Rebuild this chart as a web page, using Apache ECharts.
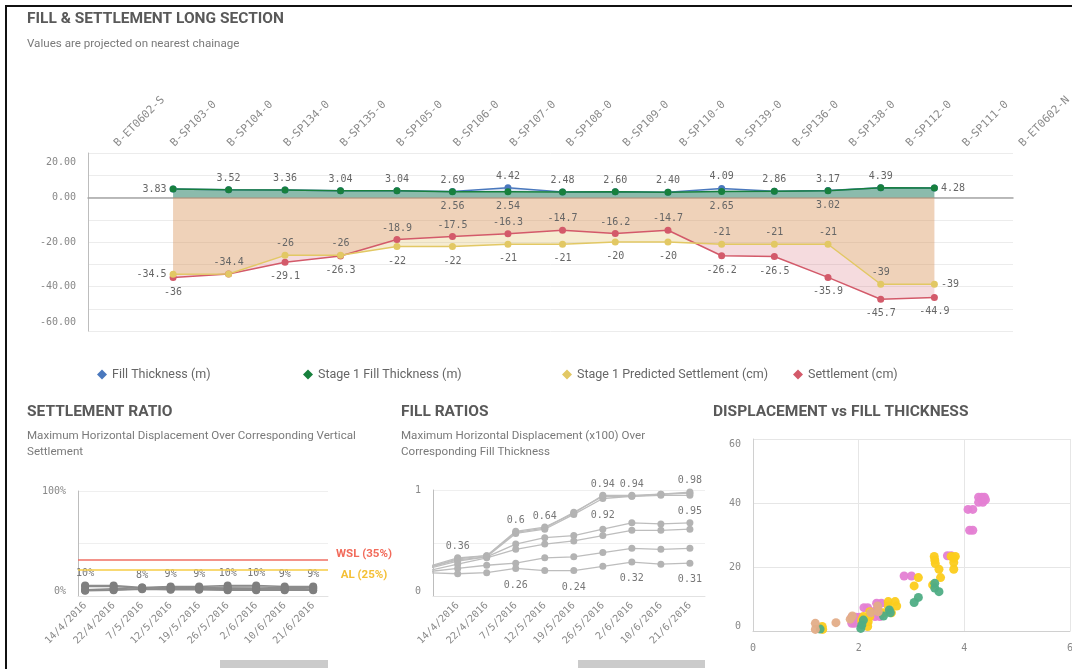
<!DOCTYPE html>
<html>
<head>
<meta charset="utf-8">
<script src="https://cdn.jsdelivr.net/npm/echarts@6/dist/echarts.min.js"></script>
<style>
  html, body { margin: 0; padding: 0; background: #fff; }
  #chart { width: 1072px; height: 669px; }
  #frame { position: absolute; left: 5px; top: 5px; right: 0; bottom: 0; border-left: 2px solid #111; border-top: 2px solid #111; pointer-events: none; }
</style>
</head>
<body>
<div id="chart"></div>
<div id="frame"></div>
<script>
// long section stations (label axis) and data points
const stationLabels = ['B-ET0602-S', 'B-SP103-0', 'B-SP104-0', 'B-SP134-0', 'B-SP135-0', 'B-SP105-0', 'B-SP106-0', 'B-SP107-0',
  'B-SP108-0', 'B-SP109-0', 'B-SP110-0', 'B-SP139-0', 'B-SP136-0', 'B-SP138-0', 'B-SP112-0', 'B-SP111-0', 'B-ET0602-N'];
const chainage = [92, 152, 213, 273, 334, 394, 454, 513, 570, 627, 685, 742, 800, 857, 915];
const fillThickness = [3.83, 3.52, 3.36, 3.04, 3.04, 2.69, 4.42, 2.48, 2.60, 2.40, 4.09, 2.86, 3.17, 4.39, 4.28];
const stage1Fill = [3.83, 3.52, 3.36, 3.04, 3.04, 2.56, 2.54, 2.48, 2.60, 2.40, 2.65, 2.86, 3.02, 4.39, 4.28];
const predictedSettlement = [-34.5, -34.4, -26, -26, -22, -22, -21, -21, -20, -20, -21, -21, -21, -39, -39];
const settlement = [-36, -34.4, -29.1, -26.3, -18.9, -17.5, -16.3, -14.7, -16.2, -14.7, -26.2, -26.5, -35.9, -45.7, -44.9];

// settlement ratio (%)
const surveyDates = ['14/4/2016', '22/4/2016', '7/5/2016', '12/5/2016', '19/5/2016', '26/5/2016', '2/6/2016', '10/6/2016', '21/6/2016'];
const ratioA = [10, 10, 8, 9, 9, 10, 10, 9, 9];
const ratioB = [9, 9, 7.5, 8.5, 8, 8.5, 8.5, 8, 8];
const ratioC = [6, 7, 8, 7, 7.5, 7.5, 7, 7, 7.5];
const ratioD = [5.5, 6, 7, 6.5, 6.5, 6, 6, 6, 6];
const ratioE = [5, 5.5, 6.5, 6, 6, 5.5, 5.5, 5.5, 5.5];
const ratioLabelIdx = [0, 2, 3, 4, 5, 6, 7, 8];
const warningLimit = 35;
const alertLimit = 25;

// fill ratios (index 0 = survey before 14/4, scrolled out of view)
const fillL1 = [0.28, 0.36, 0.38, 0.60, 0.64, 0.79, 0.94, 0.94, 0.96, 0.98];
const fillL2 = [0.27, 0.34, 0.37, 0.59, 0.63, 0.77, 0.92, 0.94, 0.95, 0.95];
const fillL3 = [0.27, 0.35, 0.38, 0.61, 0.65, 0.78, 0.95, 0.95, 0.96, 0.97];
const fillL4 = [0.26, 0.33, 0.37, 0.49, 0.55, 0.57, 0.63, 0.69, 0.68, 0.69];
const fillL5 = [0.24, 0.30, 0.36, 0.44, 0.49, 0.52, 0.57, 0.62, 0.62, 0.63];
const fillL6 = [0.23, 0.26, 0.29, 0.31, 0.36, 0.37, 0.41, 0.45, 0.44, 0.45];
const fillL7 = [0.22, 0.21, 0.22, 0.26, 0.24, 0.24, 0.28, 0.32, 0.30, 0.31];
const fillL1LabelIdx = [1, 3, 4, 6, 7, 9];
const fillL2LabelIdx = [6, 9];
const fillL7LabelIdx = [3, 5, 7, 9];

// displacement vs fill thickness [fill thickness, displacement]
const pinkPts = [[4.07, 38], [4.16, 38], [4.1, 31.5], [4.16, 31.5], [4.27, 41.8], [4.33, 41.8], [4.38, 41.8], [4.27, 40.2],
  [4.35, 40.2], [4.4, 41], [3.68, 23.5], [3.75, 23.5], [2.86, 17.2], [3.0, 17.2], [2.1, 7.3], [2.17, 7.3], [2.34, 8.7],
  [2.43, 8.7], [2.31, 6.3], [2.38, 6.3], [2.31, 4.5], [2.4, 4.5], [1.87, 4.3], [1.95, 4.3], [2.02, 4.3], [1.87, 2.4],
  [1.92, 2.4], [2.43, 5.5]];
const yellowPts = [[3.43, 23.3], [3.44, 22.2], [3.45, 21.1], [3.52, 19.3], [3.55, 16.7], [3.4, 14.4], [3.75, 23.3], [3.8, 22.7],
  [3.83, 23.3], [3.8, 21.4], [3.8, 19.3], [3.13, 16.7], [3.05, 14.1], [2.56, 9.2], [2.69, 9.2], [2.72, 7.8], [2.56, 7.8],
  [2.62, 5.7], [2.21, 6], [2.21, 4.5], [2.18, 2.9], [2.17, 1.4], [2.09, 4.5], [2.06, 2.9], [1.31, 1.4], [1.32, 0.5],
  [2.47, 5.7], [2.06, 3.5]];
const greenPts = [[3.44, 14.9], [3.44, 13.4], [3.52, 12.3], [3.13, 10.5], [3.05, 8.9], [2.58, 6.6], [2.6, 5.7], [2.47, 4.7],
  [2.09, 3.4], [2.06, 1.9], [2.04, 0.8], [1.27, 0.6]];
const tanPts = [[1.18, 2.4], [1.18, 0.5], [1.57, 2.6], [1.88, 4.7], [1.84, 3.7], [2.23, 5.7], [2.36, 7.8], [2.37, 6]];

const mono = 'DejaVu Sans Mono';
const sans = 'Roboto';
const n = chainage.length;

function edgePos(i, upper) {
  if (!upper) return 'bottom';
  if (i === 0) return 'left';
  if (i === n - 1) return 'right';
  return 'top';
}

const blueData = fillThickness.map((v, i) => ({
  value: [chainage[i], v],
  label: { position: edgePos(i, true), distance: 3 },
}));
const greenData = stage1Fill.map((v, i) => ({
  value: [chainage[i], v],
  label: { show: v !== fillThickness[i], position: 'bottom', distance: 6 },
}));
const yellowData = predictedSettlement.map((v, i) => {
  const upper = v >= settlement[i];
  return { value: [chainage[i], v], label: { show: v !== settlement[i], position: edgePos(i, upper), distance: upper ? 3 : 6 } };
});
const redData = settlement.map((v, i) => {
  const upper = v >= predictedSettlement[i];
  return { value: [chainage[i], v], label: { position: edgePos(i, upper), distance: upper ? 3 : 6 } };
});

const dataLabel = { show: true, color: '#666', fontFamily: mono, fontSize: 10 };

function topLine(name, data, color, area, fmt) {
  return {
    name, type: 'line', xAxisIndex: 0, yAxisIndex: 0, data,
    symbol: 'circle', symbolSize: 7,
    itemStyle: { color },
    lineStyle: { color, width: 1.5 },
    areaStyle: { color: area },
    label: Object.assign({}, dataLabel, { formatter: fmt }),
  };
}

const ratioSeries = [ratioA, ratioB, ratioC, ratioD, ratioE].map((vals, k) => ({
  name: 'Ratio ' + (k + 1), type: 'line', xAxisIndex: 2, yAxisIndex: 2,
  data: vals.map((v, i) => ({
    value: [i + 1, v],
    label: { show: k === 0 && ratioLabelIdx.includes(i) },
  })),
  symbol: 'circle', symbolSize: 8,
  itemStyle: { color: '#7f7f7f' },
  lineStyle: { color: '#8c8c8c', width: 1.5 },
  label: Object.assign({}, dataLabel, { color: '#777', position: 'top', distance: 3, formatter: p => p.value[1] + '%' }),
  z: 3,
}));
ratioSeries[0].markLine = {
  symbol: 'none', silent: true, animation: false,
  label: { position: 'end', formatter: '{b}', fontFamily: sans, fontWeight: 'bold', fontSize: 11.5, align: 'center', distance: 36 },
  data: [
    { yAxis: warningLimit, name: 'WSL (35%)', lineStyle: { color: '#ef6f63', width: 1.5, type: 'solid' }, label: { color: '#f26b5b', verticalAlign: 'bottom', lineHeight: 10 } },
    { yAxis: alertLimit, name: 'AL (25%)', lineStyle: { color: '#f6cd45', width: 1.5, type: 'solid' }, label: { color: '#f4bf35', verticalAlign: 'top', lineHeight: 10 } },
  ],
};

const fillSets = [fillL1, fillL2, fillL3, fillL4, fillL5, fillL6, fillL7];
const fillLabelIdx = { 0: fillL1LabelIdx, 1: fillL2LabelIdx, 6: fillL7LabelIdx };
const fillSeries = fillSets.map((vals, k) => ({
  name: 'Fill ratio ' + (k + 1), type: 'line', xAxisIndex: 3, yAxisIndex: 3,
  data: vals.map((v, i) => ({
    value: [i, v],
    label: { show: (fillLabelIdx[k] || []).includes(i) },
  })),
  symbol: 'circle', symbolSize: 7,
  itemStyle: { color: '#b3b3b3' },
  lineStyle: { color: '#bdbdbd', width: 1.3 },
  label: Object.assign({}, dataLabel, { color: '#777', position: k === 0 ? 'top' : 'bottom', distance: k === 0 ? 3 : 8, formatter: p => String(p.value[1]) }),
}));

const scatterSeries = [
  ['Group A', pinkPts, '#e47fd3'],
  ['Group B', yellowPts, '#fccc1c'],
  ['Group C', greenPts, '#4fad85'],
  ['Group D', tanPts, '#e3ad88'],
].map(([name, data, color]) => ({
  name, type: 'scatter', xAxisIndex: 4, yAxisIndex: 4, data,
  symbolSize: 9, itemStyle: { color, opacity: 0.95 },
}));

const titleStyle = { fontFamily: sans, fontWeight: 'bold', fontSize: 15.5, color: '#595959' };
const subStyle = { fontFamily: sans, fontWeight: 'normal', fontSize: 11.6, color: '#7a7a7a', lineHeight: 16 };
const axisLabelMono = { fontFamily: mono, fontSize: 10, color: '#888' };
const legendBase = { icon: 'diamond', itemWidth: 10, itemHeight: 10, itemGap: 6, top: 363, textStyle: { fontFamily: sans, fontSize: 12.5, color: '#666' } };

const chart = echarts.init(document.getElementById('chart'));
chart.setOption({
  animation: false,
  backgroundColor: '#fff',
  title: [
    { text: 'FILL & SETTLEMENT LONG SECTION', left: 27, top: 11, padding: 0, textStyle: titleStyle },
    { text: 'Values are projected on nearest chainage', left: 27, top: 36, padding: 0, textStyle: subStyle },
    { text: 'SETTLEMENT RATIO', left: 27, top: 404, padding: 0, textStyle: titleStyle },
    { text: 'Maximum Horizontal Displacement Over Corresponding Vertical\nSettlement', left: 27, top: 428, padding: 0, textStyle: subStyle },
    { text: 'FILL RATIOS', left: 401, top: 404, padding: 0, textStyle: titleStyle },
    { text: 'Maximum Horizontal Displacement (x100) Over\nCorresponding Fill Thickness', left: 401, top: 428, padding: 0, textStyle: subStyle },
    { text: 'DISPLACEMENT vs FILL THICKNESS', left: 713, top: 404, padding: 0, textStyle: titleStyle },
  ],
  legend: [
    Object.assign({ left: 92, data: ['Fill Thickness (m)'] }, legendBase),
    Object.assign({ left: 298, data: ['Stage 1 Fill Thickness (m)'] }, legendBase),
    Object.assign({ left: 557, data: ['Stage 1 Predicted Settlement (cm)'] }, legendBase),
    Object.assign({ left: 788, data: ['Settlement (cm)'] }, legendBase),
  ],
  grid: [
    { left: 88, right: 59, top: 153, bottom: 338, outerBoundsMode: 'none' },
    { left: 116, right: 51, top: 153, bottom: 338, outerBoundsMode: 'none' },
    { left: 78, right: 744, top: 491, bottom: 73, outerBoundsMode: 'none' },
    { left: 433, right: 367, top: 490, bottom: 73, outerBoundsMode: 'none' },
    { left: 753, right: 2, top: 439, bottom: 38, outerBoundsMode: 'none' },
  ],
  xAxis: [
    {
      type: 'value', gridIndex: 0, min: 0, max: 1000,
      axisLine: { show: true, onZero: true, lineStyle: { color: '#a5a5a5', width: 1.5 } },
      axisTick: { show: false }, axisLabel: { show: false }, splitLine: { show: false },
    },
    {
      type: 'category', gridIndex: 1, position: 'top', boundaryGap: false, data: stationLabels,
      axisLine: { show: false }, axisTick: { show: false },
      axisLabel: Object.assign({}, axisLabelMono, { rotate: 45, interval: 0, margin: 8, fontSize: 11, color: '#8a8a8a' }),
    },
    {
      type: 'value', gridIndex: 2, min: 0.75, max: 9.52,
      axisLine: { show: true, lineStyle: { color: '#e2e2e2' } }, axisTick: { show: false }, splitLine: { show: false },
      axisLabel: Object.assign({}, axisLabelMono, { rotate: 45, margin: 8, customValues: surveyDates.map((d, i) => i + 1), formatter: v => surveyDates[v - 1] }),
    },
    {
      type: 'value', gridIndex: 3, min: 0.15, max: 9.52,
      axisLine: { show: true, lineStyle: { color: '#e2e2e2' } }, axisTick: { show: false }, splitLine: { show: false },
      axisLabel: Object.assign({}, axisLabelMono, { rotate: 45, margin: 8, customValues: surveyDates.map((d, i) => i + 1), formatter: v => surveyDates[v - 1] }),
    },
    {
      type: 'value', gridIndex: 4, min: 0, max: 6, interval: 2,
      axisLine: { show: true, lineStyle: { color: '#d0d0d0' } }, axisTick: { show: false },
      splitLine: { lineStyle: { color: '#e6e6e6' } },
      axisLabel: Object.assign({}, axisLabelMono, { margin: 12 }),
    },
  ],
  yAxis: [
    {
      type: 'value', gridIndex: 0, min: -60, max: 20, interval: 10,
      axisLine: { show: true, lineStyle: { color: '#bdbdbd' } }, axisTick: { show: false },
      splitLine: { lineStyle: { color: '#ececec' } },
      axisLabel: Object.assign({}, axisLabelMono, {
        margin: 12, lineHeight: 18, formatter: v => (v % 20 === 0 ? v.toFixed(2) : ''),
        verticalAlignMaxLabel: 'top', verticalAlignMinLabel: 'bottom',
      }),
    },
    { type: 'value', gridIndex: 1, show: false, min: 0, max: 1 },
    {
      type: 'value', gridIndex: 2, min: 0, max: 100, interval: 50,
      axisLine: { show: true, lineStyle: { color: '#bdbdbd' } }, axisTick: { show: false },
      splitLine: { lineStyle: { color: '#efefef' } },
      axisLabel: Object.assign({}, axisLabelMono, { margin: 12, formatter: v => (v === 50 ? '' : v + '%'), verticalAlignMinLabel: 'bottom' }),
    },
    {
      type: 'value', gridIndex: 3, min: 0, max: 1, interval: 0.5,
      axisLine: { show: true, lineStyle: { color: '#bdbdbd' } }, axisTick: { show: false },
      splitLine: { lineStyle: { color: '#efefef' } },
      axisLabel: Object.assign({}, axisLabelMono, { margin: 12, formatter: v => (v === 0.5 ? '' : String(v)), verticalAlignMinLabel: 'bottom' }),
    },
    {
      type: 'value', gridIndex: 4, min: 0, max: 60, interval: 20,
      axisLine: { show: true, lineStyle: { color: '#d0d0d0' } }, axisTick: { show: false },
      splitLine: { lineStyle: { color: '#e6e6e6' } },
      axisLabel: Object.assign({}, axisLabelMono, { margin: 12, verticalAlignMaxLabel: 'top', verticalAlignMinLabel: 'bottom' }),
    },
  ],
  series: [
    topLine('Fill Thickness (m)', blueData, '#4a78bd', 'rgba(74,120,189,0.28)', p => p.value[1].toFixed(2)),
    topLine('Stage 1 Fill Thickness (m)', greenData, '#17803d', 'rgba(23,128,70,0.58)', p => p.value[1].toFixed(2)),
    topLine('Settlement (cm)', redData, '#d35a6a', 'rgba(212,92,106,0.32)', p => String(p.value[1])),
    topLine('Stage 1 Predicted Settlement (cm)', yellowData, '#e2c864', 'rgba(222,186,90,0.4)', p => String(p.value[1])),
    ...ratioSeries,
    ...fillSeries,
    ...scatterSeries,
  ],
  graphic: [
    { type: 'rect', shape: { x: 220, y: 660, width: 108, height: 8 }, style: { fill: '#cbcbcb' }, silent: true },
    { type: 'rect', shape: { x: 578, y: 660, width: 127, height: 8 }, style: { fill: '#cbcbcb' }, silent: true },
  ],
});
window.onresize = function() {
  chart.resize();
};
</script>
</body>
</html>
